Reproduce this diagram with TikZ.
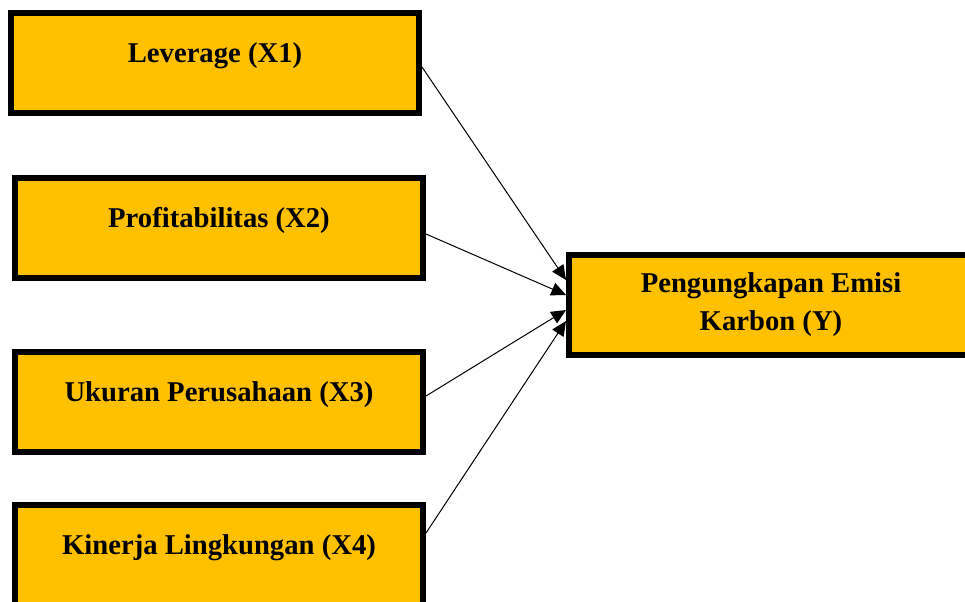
\documentclass[tikz,border=0pt]{standalone}
\usepackage{fontspec}
\setmainfont{Liberation Serif}
\usetikzlibrary{arrows.meta,calc}

\definecolor{boxgold}{HTML}{FFC000}

\tikzset{
    varbox/.style={rectangle, draw=black, line width=4.5pt, fill=boxgold,
        minimum width=306pt, inner ysep=0pt, text height=36.75pt, text depth=38.25pt,
        font=\bfseries\fontsize{21.5}{28.5}\selectfont},
    ybox/.style={rectangle, draw=black, line width=4.5pt, fill=boxgold,
        minimum width=303pt, minimum height=75pt, align=center,
        font=\bfseries\fontsize{21.5}{28.5}\selectfont}
}

\begin{document}
\begin{tikzpicture}[x=0.75pt, y=-0.75pt, >={Triangle[length=11pt,width=10pt]}]
    \clip (0,0) rectangle (965,601);

    % Nodes {x1, x2, x3, x4, y}
    \node [varbox] (x1) at (215,63)  {Leverage (X1)};
    \node [varbox] (x2) at (219,228) {Profitabilitas (X2)};
    \node [varbox] (x3) at (219,402) {Ukuran Perusahaan (X3)};
    \node [varbox] (x4) at (219,555) {Kinerja Lingkungan (X4)};
    \node [ybox]   (y)  at (771,305) {Pengungkapan Emisi\\Karbon (Y)};

    % Paths
    \path [->, line width=0.75pt] ($(x1.east)+(0,4)$)   edge ($(y.west)+(0,-25)$);
    \path [->, line width=0.75pt] ($(x2.east)+(0,6)$)   edge ($(y.west)+(0,-10)$);
    \path [->, line width=0.75pt] ($(x3.east)+(0,-6)$)  edge ($(y.west)+(0,5)$);
    \path [->, line width=0.75pt] ($(x4.east)+(0,-22)$) edge ($(y.west)+(0,16)$);

\end{tikzpicture}
\end{document}
